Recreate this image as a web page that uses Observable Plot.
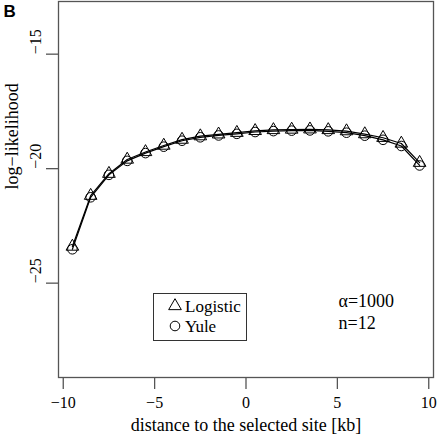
<!DOCTYPE html>
<html><head><meta charset="utf-8">
<script src="https://cdn.jsdelivr.net/npm/d3@7"></script>
<script src="https://cdn.jsdelivr.net/npm/@observablehq/plot@0.6"></script>
<style>
html,body{margin:0;padding:0;background:#fff;}
#wrap{position:relative;width:438px;height:435px;}
#legend{position:absolute;left:153px;top:293px;width:94px;height:48px;border:1px solid #333;box-sizing:border-box;background:#fff;}
</style></head><body><div id="wrap"></div>
<script>
const distance = [-9.5,-8.5,-7.5,-6.5,-5.5,-4.5,-3.5,-2.5,-1.5,-0.5,0.5,1.5,2.5,3.5,4.5,5.5,6.5,7.5,8.5,9.5];
const logistic = [-23.40,-21.18,-20.22,-19.60,-19.27,-18.99,-18.73,-18.58,-18.50,-18.43,-18.35,-18.31,-18.29,-18.28,-18.31,-18.36,-18.49,-18.65,-18.90,-19.74];
const yule     = [-23.52,-21.25,-20.27,-19.66,-19.32,-19.04,-18.78,-18.63,-18.55,-18.48,-18.40,-18.36,-18.34,-18.33,-18.37,-18.43,-18.56,-18.74,-19.01,-19.86];
const xTicks = [-10,-5,0,5,10];
const yTicks = [-25,-20,-15];
const seriesNames = ["Logistic","Yule"];
const annotation = ["α=1000","n=12"];
const xLabel = "distance to the selected site [kb]";
const yLabel = "log\u2212likelihood";
const panelLabel = "B";

const serif = "'Liberation Serif','Times New Roman',serif";
const fmt = d => String(d).replace("-", "\u2212");
const rowsL = distance.map((d,i)=>({x:d,y:logistic[i],s:seriesNames[0]}));
const rowsY = distance.map((d,i)=>({x:d,y:yule[i],s:seriesNames[1]}));
const rTri = 4.7, rCirc = 4.8;

const chart = Plot.plot({
  width:438, height:435, marginLeft:58, marginRight:5, marginTop:1, marginBottom:58,
  style:{fontFamily:serif, fontSize:"16px", background:"#fff", color:"#000"},
  x:{domain:[-10.26,10.26]},
  y:{domain:[-29.12,-12.70]},
  marks:[
    Plot.frame({stroke:"#555", strokeWidth:1.3}),
    Plot.axisX({ticks:xTicks, tickSize:12, tickPadding:7, tickFormat:fmt, fontSize:16, fontFamily:serif, stroke:"#555", strokeWidth:1.3, label:null}),
    Plot.axisY({ticks:yTicks, tickSize:12, tickFormat:()=>"", stroke:"#555", strokeWidth:1.3, label:null}),
    Plot.text(yTicks, {y:d=>d, text:fmt, frameAnchor:"left", dx:-23, rotate:-90, fontSize:16, fontFamily:serif}),
    Plot.text([yLabel], {frameAnchor:"left", dx:-46, rotate:-90, fontSize:18, fontFamily:serif}),
    Plot.text([xLabel], {frameAnchor:"bottom", dy:53, lineAnchor:"bottom", fontSize:18, fontFamily:serif}),
    Plot.text([panelLabel], {frameAnchor:"top-left", dx:-55, dy:15, lineAnchor:"bottom", textAnchor:"start", fontWeight:"bold", fontFamily:"'Liberation Sans',Arial,sans-serif", fontSize:17}),
    Plot.text([annotation.join("\n")], {frameAnchor:"top-left", dx:280, dy:327, lineAnchor:"bottom", textAnchor:"start", lineHeight:1.22, fontSize:18, fontFamily:serif}),
    Plot.line(rowsL, {x:"x", y:"y", stroke:"#000", strokeWidth:1.2}),
    Plot.line(rowsY, {x:"x", y:"y", stroke:"#000", strokeWidth:1.2}),
    Plot.dot(rowsY, {x:"x", y:"y", symbol:"circle", r:rCirc, stroke:"#000", fill:"none", strokeWidth:1}),
    Plot.dot(rowsL, {x:"x", y:"y", symbol:"triangle", r:rTri, stroke:"#000", fill:"none", strokeWidth:1})
  ]
});
const wrap = document.getElementById("wrap");
wrap.appendChild(chart);

// legend
const lg = document.createElement("div");
lg.id = "legend";
const ns = "http://www.w3.org/2000/svg";
const svg = document.createElementNS(ns, "svg");
svg.setAttribute("width", 92); svg.setAttribute("height", 46);
svg.style.position = "absolute"; svg.style.left = "0"; svg.style.top = "0";
const syms = [d3.symbolTriangle, d3.symbolCircle];
const rs = [rTri, rCirc];
seriesNames.forEach((name, i) => {
  const cy = 12 + i * 20;
  const p = document.createElementNS(ns, "path");
  p.setAttribute("d", d3.symbol(syms[i], rs[i]*rs[i]*Math.PI)());
  p.setAttribute("transform", `translate(21,${cy})`);
  p.setAttribute("fill", "none"); p.setAttribute("stroke", "#000"); p.setAttribute("stroke-width", "1");
  svg.appendChild(p);
  const t = document.createElementNS(ns, "text");
  t.setAttribute("x", 31); t.setAttribute("y", cy + 6);
  t.setAttribute("font-family", "Liberation Serif, Times New Roman, serif");
  t.setAttribute("font-size", "17");
  t.textContent = name;
  svg.appendChild(t);
});
lg.appendChild(svg);
wrap.appendChild(lg);
</script>
</body></html>
